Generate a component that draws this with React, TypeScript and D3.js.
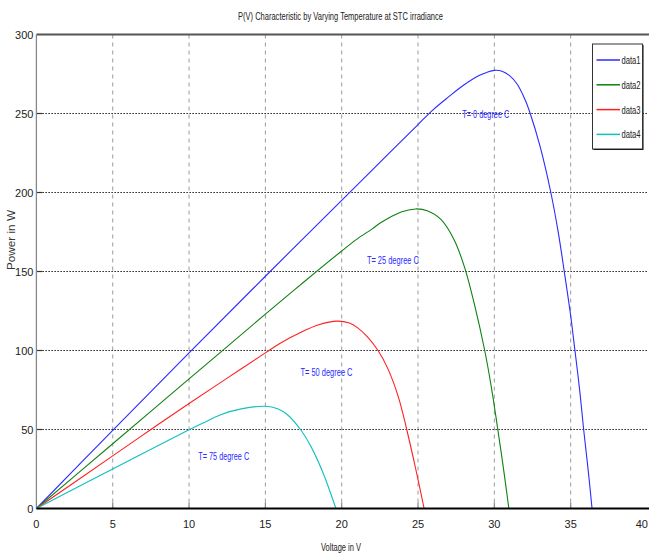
import React from "react";
import * as d3 from "d3";

const W = 649;
const H = 558;

const xTicks = [0, 5, 10, 15, 20, 25, 30, 35, 40];
const yTicks = [0, 50, 100, 150, 200, 250, 300];

const seriesNames = ["data1", "data2", "data3", "data4"];
const seriesColors = ["#2b2bff", "#108010", "#ff2020", "#10c0c0"];

const data1: [number, number][] = [
  [0, 0], [5, 49.5], [10, 98.5], [15, 147], [20, 195], [22.5, 219], [25, 243],
  [26, 252.5], [27, 260.5], [28, 268], [29, 274], [29.5, 276], [30, 277.3], [30.5, 276.8],
  [31, 274], [31.5, 268.5], [32, 259], [32.35, 250], [33, 229], [33.7, 200], [34.2, 174],
  [34.58, 150], [35, 122], [35.28, 100], [35.6, 74], [35.85, 50], [36.15, 24], [36.4, 0],
];
const data2: [number, number][] = [
  [0, 0], [5, 41], [10, 82], [15, 123], [17.6, 144], [20, 163], [21, 170.5],
  [22, 177], [22.5, 180.5], [23.2, 184.5], [24, 188], [24.85, 189.6], [25.6, 188.5],
  [26.5, 183], [27.37, 170], [28.07, 152], [28.75, 127], [29.37, 100], [29.8, 77],
  [30.18, 53], [30.58, 26.5], [30.95, 0],
];
const data3: [number, number][] = [
  [0, 0], [5, 33.3], [7.5, 50], [10, 66.5], [12.5, 82.5], [15, 98.5], [16, 104.8],
  [17.3, 111.4], [18.5, 116.3], [19.7, 118.6], [20.5, 117.4], [21.03, 114.5],
  [21.7, 108.5], [22.38, 100], [23, 89], [23.7, 71], [24.26, 50], [24.85, 25], [25.4, 0],
];
const data4: [number, number][] = [
  [0, 0], [5, 25], [10, 49.8], [11, 54.5], [12.07, 59.4], [13.5, 63.2], [15, 64.7],
  [15.8, 63.2], [16.43, 59.5], [17.3, 50], [18, 39], [18.8, 22], [19.62, 0],
];
const allSeries = [data1, data2, data3, data4];

const annotations: { text: string; v: number; p: number; len: number }[] = [
  { text: "T= 0 degree C", v: 27.9, p: 250, len: 47 },
  { text: "T= 25 degree C", v: 21.65, p: 157, len: 52 },
  { text: "T= 50 degree C", v: 17.3, p: 86.5, len: 52 },
  { text: "T= 75 degree C", v: 10.6, p: 33.5, len: 51 },
];

const NARROW = "'Liberation Sans Narrow', 'Arial Narrow', 'Liberation Sans', sans-serif";

export default function App() {
  const x = d3.scaleLinear().domain([0, 40]).range([36.4, 647]);
  const y = d3.scaleLinear().domain([0, 300]).range([508.5, 34.5]);
  const line = d3
    .line<[number, number]>()
    .x((d) => x(d[0]))
    .y((d) => y(d[1]))
    .curve(d3.curveCatmullRom.alpha(0.5));

  const x0 = x(0);
  const x1 = x(40);
  const yTop = y(300);
  const yBot = y(0);

  const legX = 592.5;
  const legY = 44;
  const legW = 50;
  const legH = 105;

  return (
    <svg
      width={W}
      height={H}
      style={{ position: "absolute", left: 0, top: 0, background: "#fff" }}
      xmlns="http://www.w3.org/2000/svg"
    >
      <rect x={0} y={0} width={W} height={H} fill="#fff" />
      {xTicks.slice(1, -1).map((t) => (
        <line
          key={"vx" + t}
          x1={x(t)}
          x2={x(t)}
          y1={yTop}
          y2={yBot}
          stroke="#9a9a9a"
          strokeWidth={1}
          strokeDasharray="4,4"
        />
      ))}
      {yTicks.slice(1, -1).map((t) => (
        <line
          key={"hy" + t}
          x1={x0}
          x2={x1}
          y1={y(t)}
          y2={y(t)}
          stroke="#222"
          strokeWidth={1}
          strokeDasharray="1.5,1.5"
        />
      ))}
      {xTicks.slice(1, -1).map((t) => (
        <line key={"tx" + t} x1={x(t)} x2={x(t)} y1={yBot} y2={yBot - 6} stroke="#888" strokeWidth={1.2} />
      ))}
      {yTicks.slice(1, -1).map((t) => (
        <line key={"ty" + t} x1={x0} x2={x0 + 6} y1={y(t)} y2={y(t)} stroke="#333" strokeWidth={1.2} />
      ))}
      {allSeries.map((s, i) => (
        <path key={"s" + i} d={line(s) || ""} fill="none" stroke={seriesColors[i]} strokeWidth={1.1} />
      ))}
      <line x1={x0} x2={W} y1={yTop} y2={yTop} stroke="#555" strokeWidth={2} />
      <line x1={x0} x2={x0} y1={yTop} y2={yBot} stroke="#888" strokeWidth={1.3} />
      <line x1={x0} x2={W} y1={yBot} y2={yBot} stroke="#000" strokeWidth={2} />
      {xTicks.map((t) => (
        <text
          key={"lx" + t}
          x={t === 40 ? W - 1 : x(t)}
          y={yBot + 19}
          textAnchor={t === 40 ? "end" : "middle"}
          fontFamily={NARROW}
          fontSize={11}
          fill="#222"
        >
          {t}
        </text>
      ))}
      {yTicks.map((t) => (
        <text
          key={"ly" + t}
          x={x0 - 3}
          y={y(t) + 4}
          textAnchor="end"
          fontFamily={NARROW}
          fontSize={11}
          fill="#222"
        >
          {t}
        </text>
      ))}
      <text
        x={340.5}
        y={20}
        textAnchor="middle"
        fontFamily={NARROW}
        fontSize={11}
        fill="#222"
        textLength={205}
        lengthAdjust="spacingAndGlyphs"
      >
        P(V) Characteristic by Varying Temperature at STC irradiance
      </text>
      <text
        x={341}
        y={551}
        textAnchor="middle"
        fontFamily={NARROW}
        fontSize={11}
        fill="#222"
        textLength={40}
        lengthAdjust="spacingAndGlyphs"
      >
        Voltage in V
      </text>
      <text
        transform={`translate(15,240) rotate(-90)`}
        textAnchor="middle"
        fontFamily="'Liberation Sans', Arial, sans-serif"
        fontSize={11}
        fill="#333"
        textLength={60}
        lengthAdjust="spacingAndGlyphs"
      >
        Power in W
      </text>
      {annotations.map((a, i) => (
        <text
          key={"a" + i}
          x={x(a.v)}
          y={y(a.p) + 4}
          fontFamily={NARROW}
          fontSize={11}
          fill="#2a2aff"
          textLength={a.len}
          lengthAdjust="spacingAndGlyphs"
        >
          {a.text}
        </text>
      ))}
      <rect x={legX + 1} y={legY + 1} width={legW} height={legH} fill="#000" />
      <rect x={legX} y={legY} width={legW} height={legH} fill="#fff" stroke="#333" strokeWidth={1} />
      {seriesNames.map((n, i) => {
        const ly = legY + 16 + i * 24.8;
        return (
          <g key={"lg" + i}>
            <line x1={legX + 4} x2={legX + 27.5} y1={ly} y2={ly} stroke={seriesColors[i]} strokeWidth={1.5} />
            <text
              x={legX + 29}
              y={ly + 4}
              fontFamily={NARROW}
              fontSize={11}
              fill="#222"
              textLength={19}
              lengthAdjust="spacingAndGlyphs"
            >
              {n}
            </text>
          </g>
        );
      })}
    </svg>
  );
}
